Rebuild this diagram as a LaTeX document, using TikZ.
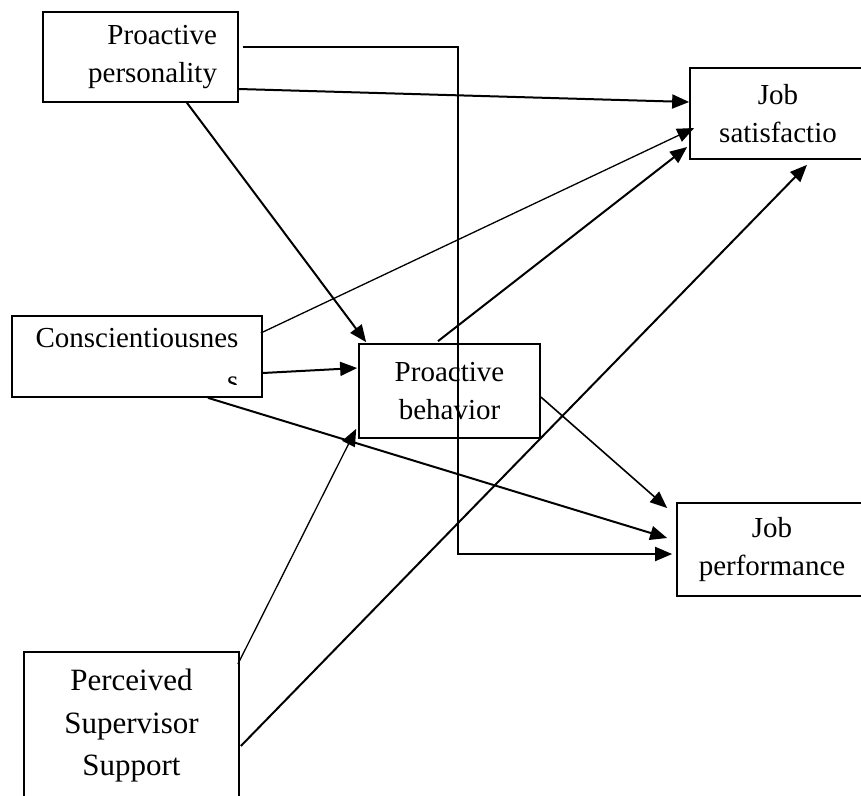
\documentclass[tikz,border=0pt]{standalone}
\usepackage{fontspec}
\setmainfont{Liberation Serif}
\usepackage{trimclip}
\usetikzlibrary{arrows.meta}

\begin{document}
\begin{tikzpicture}[x=1pt, y=-1pt,
  box/.style={rectangle, draw=black, line width=1.7pt, inner sep=0pt,
    font=\fontsize{29}{37.5}\selectfont, align=center},
  bigbox/.style={box, font=\fontsize{31}{42.5}\selectfont},
  arr/.style={-{Triangle[length=17pt, width=14pt]}, line width=2pt},
  thinarr/.style={arr, line width=1.3pt}
]
\useasboundingbox (0,0) rectangle (861,795);

% variables
\node[box, minimum width=195pt, minimum height=90pt, text width=153pt, align=right]
  (pp) at (140.5,57) {Proactive\\personality};
\node[box, minimum width=250pt, minimum height=81pt, align=right]
  (consc) at (137,356.5) {Conscientiousnes\\\clipbox{0pt 6pt 0pt 0pt}{s}};
\node[box, minimum width=181pt, minimum height=94pt] (pb) at (449.5,391) {Proactive\\behavior};
\node[box, minimum width=176pt, minimum height=91pt] (js) at (778,113.5) {Job\\satisfactio};
\node[box, minimum width=190pt, minimum height=93pt] (jp) at (772,549.5) {Job\\performance};
\node[bigbox, minimum width=215pt, minimum height=148pt] (pss) at (131.5,726) {Perceived\\Supervisor\\Support};

% paths
\draw[arr] ([shift={(4,-10)}]pp.east) -| ++(215,507) -- ([shift={(-4,4.5)}]jp.west);
\draw[arr] ([shift={(0,32)}]pp.east) -- ([shift={(0,-11.5)}]js.west);
\draw[arr] ([shift={(46.5,0)}]pp.south) -- ([shift={(8,-1)}]pb.north west);

\draw[thinarr] ([shift={(-2,-23.5)}]consc.east) -- ([shift={(5,14.5)}]js.west);
\draw[arr] ([shift={(0,16.5)}]consc.east) -- ([shift={(-1,-23)}]pb.west);
\draw[arr] ([shift={(71,0)}]consc.south) -- ([shift={(-9,-11.5)}]jp.west);

\draw[arr] ([shift={(-11.5,-2)}]pb.north) -- ([shift={(-2,33.5)}]js.west);
\draw[arr, line width=1.6pt] ([shift={(0,6)}]pb.east) -- ([shift={(-9,-41.5)}]jp.west);

\draw[thinarr] ([shift={(-2,13)}]pss.north east) -- ([shift={(-2,-10)}]pb.south west);
\draw[arr] ([shift={(1,20)}]pss.east) -- ([shift={(29,5)}]js.south);
\end{tikzpicture}
\end{document}
